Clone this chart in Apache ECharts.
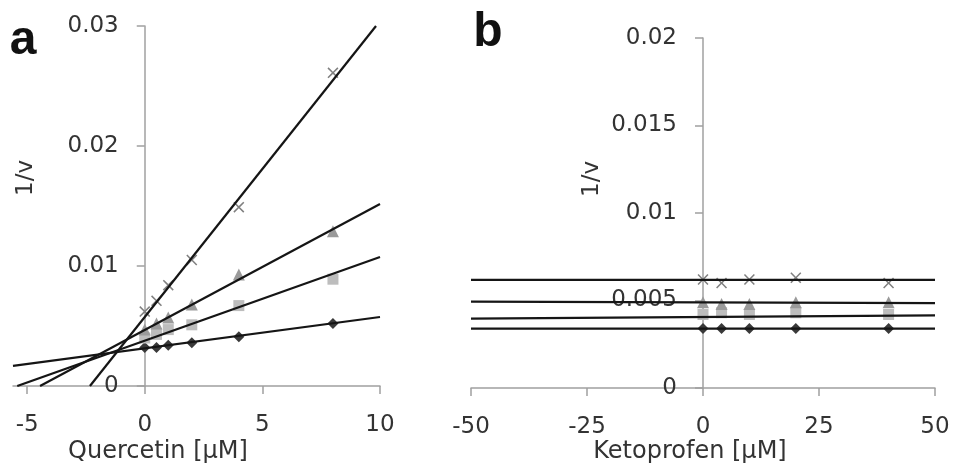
<!DOCTYPE html>
<html>
<head>
<meta charset="utf-8">
<script src="https://cdn.jsdelivr.net/npm/echarts@6/dist/echarts.min.js"></script>
<style>html,body{margin:0;padding:0;background:#fff}#c{width:958px;height:470px}</style>
</head>
<body>
<div id="c"></div>
<script>
// ---- Panel a: Quercetin ----
const quercetin = [0, 0.5, 1, 2, 4, 8];
const aCross = [0.0062, 0.0071, 0.0084, 0.0105, 0.0149, 0.0261];
const aTri   = [0.0047, 0.0052, 0.0057, 0.0068, 0.0093, 0.0129];
const aSq    = [0.0040, 0.0043, 0.0047, 0.0051, 0.0067, 0.0089];
const aDia   = [0.0032, 0.0032, 0.0034, 0.0036, 0.0041, 0.0052];
// trend line endpoints [x, 1/v]
const aLineCross = [[-2.33, 0], [9.83, 0.030]];
const aLineTri   = [[-4.45, 0], [10, 0.01517]];
const aLineSq    = [[-5.42, 0], [10, 0.01075]];
const aLineDia   = [[-5.6, 0.00167], [10, 0.00575]];
const aXTicks = [-5, 0, 5, 10];

// ---- Panel b: Ketoprofen ----
const ketoprofen = [0, 4, 10, 20, 40];
const bCross = [0.0062, 0.0060, 0.0062, 0.0063, 0.0060];
const bTri   = [0.0049, 0.0048, 0.0048, 0.0049, 0.0049];
const bSq    = [0.0042, 0.0043, 0.0042, 0.0043, 0.0042];
const bDia   = [0.0034, 0.0034, 0.0034, 0.0034, 0.0034];
const bLineCross = [[-50, 0.00618], [50, 0.00618]];
const bLineTri   = [[-50, 0.00494], [50, 0.00485]];
const bLineSq    = [[-50, 0.00396], [50, 0.00415]];
const bLineDia   = [[-50, 0.00339], [50, 0.00339]];
const bXTicks = [-50, -25, 0, 25, 50];

const FONT = 'DejaVu Sans';
const AXIS_COLOR = '#a0a0a0';
const TEXT_COLOR = '#333';
const CROSS = 'path://M1,0L5,4L9,0L10,1L6,5L10,9L9,10L5,6L1,10L0,9L4,5L0,1Z';

// grid geometry (pixels)
const GA = { left: 13, top: 26, width: 367, height: 360 };
const GB = { left: 471, top: 38, width: 464, height: 350 };
const aXMin = -5.6, aXMax = 10, bXMin = -50, bXMax = 50;
// distance from grid left edge to x = 0 (where the y axis crosses)
const aZero = GA.width * (0 - aXMin) / (aXMax - aXMin);
const bZero = GB.width * (0 - bXMin) / (bXMax - bXMin);

function pts(xs, ys) { return xs.map((x, i) => [x, ys[i]]); }

function scatter(idx, xs, ys, symbol, size, color) {
  return { type: 'scatter', xAxisIndex: idx, yAxisIndex: idx, data: pts(xs, ys),
    symbol: symbol, symbolSize: size, itemStyle: { color: color, opacity: 1 }, z: 2, silent: true };
}
function trend(idx, data) {
  return { type: 'line', xAxisIndex: idx, yAxisIndex: idx, data: data, symbol: 'none',
    lineStyle: { color: '#151515', width: 2.2 }, z: 3, silent: true, animation: false };
}

const axisLineX = { show: true, onZero: false, lineStyle: { color: AXIS_COLOR, width: 1.5 } };
const axisLineY = { show: true, onZero: false, lineStyle: { color: AXIS_COLOR, width: 1.5 } };
const axisTick = { show: true, inside: false, length: 8, lineStyle: { color: AXIS_COLOR, width: 1.5 } };
const labelStyle = { fontFamily: FONT, fontSize: 23, color: TEXT_COLOR };

const option = {
  animation: false,
  grid: [
    Object.assign({ containLabel: false, outerBoundsMode: 'none' }, GA),
    Object.assign({ containLabel: false, outerBoundsMode: 'none' }, GB)
  ],
  xAxis: [
    { type: 'value', gridIndex: 0, min: aXMin, max: aXMax, splitLine: { show: false },
      axisLine: axisLineX,
      axisTick: Object.assign({}, axisTick, { customValues: aXTicks }),
      axisLabel: Object.assign({}, labelStyle, { customValues: aXTicks, margin: 28 }) },
    { type: 'value', gridIndex: 1, min: bXMin, max: bXMax, interval: 25, splitLine: { show: false },
      axisLine: axisLineX, axisTick: axisTick,
      axisLabel: Object.assign({}, labelStyle, { margin: 28 }) }
  ],
  yAxis: [
    { type: 'value', gridIndex: 0, min: 0, max: 0.03, interval: 0.01, splitLine: { show: false },
      offset: -aZero,
      axisLine: axisLineY, axisTick: axisTick,
      axisLabel: Object.assign({}, labelStyle, { margin: 26 }) },
    { type: 'value', gridIndex: 1, min: 0, max: 0.02, interval: 0.005, splitLine: { show: false },
      offset: -bZero,
      axisLine: axisLineY, axisTick: axisTick,
      axisLabel: Object.assign({}, labelStyle, { margin: 26 }) }
  ],
  series: [
    scatter(0, quercetin, aDia, 'diamond', 11, '#3a3a3a'),
    scatter(0, quercetin, aSq, 'rect', 11, '#bdbdbd'),
    scatter(0, quercetin, aTri, 'triangle', 12, '#9a9a9a'),
    scatter(0, quercetin, aCross, CROSS, 11, '#808080'),
    trend(0, aLineCross), trend(0, aLineTri), trend(0, aLineSq), trend(0, aLineDia),
    scatter(1, ketoprofen, bSq, 'rect', 11, '#bdbdbd'),
    scatter(1, ketoprofen, bTri, 'triangle', 12, '#9a9a9a'),
    scatter(1, ketoprofen, bDia, 'diamond', 11, '#3a3a3a'),
    scatter(1, ketoprofen, bCross, CROSS, 11, '#808080'),
    trend(1, bLineCross), trend(1, bLineTri), trend(1, bLineSq), trend(1, bLineDia)
  ],
  graphic: [
    { type: 'text', x: 23, y: 41, style: { text: 'a', font: 'bold 48px "Liberation Sans"', fill: '#111', align: 'center', verticalAlign: 'middle' } },
    { type: 'text', x: 488, y: 33, style: { text: 'b', font: 'bold 48px "Liberation Sans"', fill: '#111', align: 'center', verticalAlign: 'middle' } },
    { type: 'text', x: 26, y: 178, rotation: Math.PI / 2, style: { text: '1/v', font: '23px "DejaVu Sans"', fill: TEXT_COLOR, align: 'center', verticalAlign: 'middle' } },
    { type: 'text', x: 592, y: 179, rotation: Math.PI / 2, style: { text: '1/v', font: '23px "DejaVu Sans"', fill: TEXT_COLOR, align: 'center', verticalAlign: 'middle' } },
    { type: 'text', x: 158, y: 452, style: { text: 'Quercetin [µM]', font: '24px "DejaVu Sans"', fill: TEXT_COLOR, align: 'center', verticalAlign: 'middle' } },
    { type: 'text', x: 690, y: 452, style: { text: 'Ketoprofen [µM]', font: '24px "DejaVu Sans"', fill: TEXT_COLOR, align: 'center', verticalAlign: 'middle' } }
  ]
};

const chart = echarts.init(document.getElementById('c'), null, { renderer: 'canvas' });
chart.setOption(option);
</script>
</body>
</html>
